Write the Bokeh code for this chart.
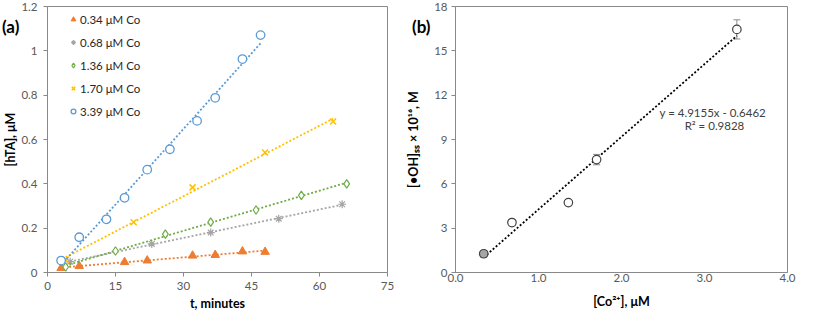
import numpy as np
from bokeh.plotting import figure
from bokeh.layouts import row
from bokeh.models import (ColumnDataSource, FixedTicker, Legend, LegendItem, Label, Div,
                          Whisker, TeeHead, Range1d)
from bokeh.embed import file_html
from bokeh.resources import INLINE

# ---------------- Panel (a) data ----------------
t_034 = [3, 7, 17, 22, 32, 37, 43, 48]
hta_034 = [0.020, 0.029, 0.047, 0.054, 0.076, 0.079, 0.095, 0.093]
t_068 = [5, 23, 36, 51, 65]
hta_068 = [0.049, 0.129, 0.180, 0.243, 0.308]
t_136 = [4, 15, 26, 36, 46, 56, 66]
hta_136 = [0.025, 0.097, 0.173, 0.227, 0.282, 0.348, 0.400]
t_170 = [4, 19, 32, 48, 63]
hta_170 = [0.058, 0.227, 0.384, 0.541, 0.681]
t_339 = [3, 7, 13, 17, 22, 27, 33, 37, 43, 47]
hta_339 = [0.054, 0.159, 0.240, 0.337, 0.464, 0.556, 0.684, 0.788, 0.963, 1.071]

series_labels = ["0.34 μM Co", "0.68 μM Co", "1.36 μM Co", "1.70 μM Co", "3.39 μM Co"]

a_xticks = [0, 15, 30, 45, 60, 75]
a_xlabels = ["0", "15", "30", "45", "60", "75"]
a_yticks = [0, 0.2, 0.4, 0.6, 0.8, 1.0, 1.2]
a_ylabels = ["0", "0.2", "0.4", "0.6", "0.8", "1", "1.2"]

# ---------------- Panel (b) data ----------------
co = [0.34, 0.68, 1.36, 1.70, 3.39]
oh = [1.27, 3.38, 4.73, 7.64, 16.45]
oh_err = [0.22, 0.10, 0.10, 0.35, 0.65]
fit_slope = 4.9155
fit_intercept = -0.6462
fit_r2 = 0.9828

b_xticks = [0, 1, 2, 3, 4]
b_xlabels = ["0.0", "1.0", "2.0", "3.0", "4.0"]
b_yticks = [0, 3, 6, 9, 12, 15, 18]
b_ylabels = ["0", "3", "6", "9", "12", "15", "18"]

FONT = "Lato"
AXIS_COL = "#898989"
TICK_COL = "#595959"

FIG_H = 313
TOP = 6
BOTTOM = 41
frame_h = FIG_H - TOP - BOTTOM


def style(p, xt, xl, yt, yl):
    p.outline_line_color = AXIS_COL
    p.outline_line_width = 1
    p.xgrid.grid_line_color = None
    p.ygrid.grid_line_color = None
    p.xaxis.ticker = FixedTicker(ticks=xt)
    p.yaxis.ticker = FixedTicker(ticks=yt)
    p.xaxis.major_label_overrides = dict(zip(xt, xl))
    p.yaxis.major_label_overrides = dict(zip(yt, yl))
    for ax in p.axis:
        ax.axis_line_color = AXIS_COL
        ax.major_tick_line_color = AXIS_COL
        ax.minor_tick_line_color = None
        ax.major_tick_in = 0
        ax.major_tick_out = 4
        ax.major_label_text_font = FONT
        ax.major_label_text_font_size = "11.5px"
        ax.major_label_text_color = TICK_COL
        ax.axis_label_text_font = FONT
        ax.axis_label_text_font_size = "12.5px"
        ax.axis_label_text_font_style = "bold"
        ax.axis_label_text_color = "#000000"
    p.background_fill_color = "white"
    p.border_fill_color = "white"


def panel_tag(text, left):
    return Div(text=text, styles={"position": "absolute", "left": left, "top": "17px",
                                  "font-family": "Lato", "font-size": "17px",
                                  "font-weight": "bold", "color": "#000000",
                                  "z-index": "10", "line-height": "20px"})


# ---------------- Figure (a) ----------------
pa = figure(width=402, height=FIG_H, output_backend="svg", toolbar_location=None,
            x_range=Range1d(0, 75), y_range=Range1d(0, 1.2),
            min_border_left=40, min_border_right=15, min_border_top=TOP,
            min_border_bottom=BOTTOM)
style(pa, a_xticks, a_xlabels, a_yticks, a_ylabels)
pa.xaxis.axis_label = "t, minutes"
pa.yaxis.axis_label = "[hTA], μM"
pa.yaxis.major_label_standoff = 6
pa.xaxis.major_label_standoff = 5
pa.yaxis.axis_label_standoff = 0
pa.xaxis.axis_label_standoff = 3

colors = ["#ED7D31", "#A5A5A5", "#70AD47", "#FFC000", "#5B9BD5"]
ts = [t_034, t_068, t_136, t_170, t_339]
vs = [hta_034, hta_068, hta_136, hta_170, hta_339]
items = []
for i, (t, v, c, lab) in enumerate(zip(ts, vs, colors, series_labels)):
    t_arr = np.array(t, dtype=float)
    v_arr = np.array(v, dtype=float)
    k, b = np.polyfit(t_arr, v_arr, 1)
    xs = [t_arr.min(), t_arr.max()]
    pa.line(xs, [k * x + b for x in xs], line_color=c, line_width=1.8, line_dash="2 2")
    if i == 0:
        r = pa.scatter(t, v, marker="triangle", size=8.5, fill_color=c, line_color=c)
    elif i == 1:
        r = pa.scatter(t, v, marker="asterisk", size=8, line_color=c, line_width=1.2)
    elif i == 2:
        r = pa.scatter(t, v, marker="diamond", size=8.5, fill_color="white",
                       line_color=c, line_width=1.2)
    elif i == 3:
        r = pa.scatter(t, v, marker="x", size=8.5, line_color=c, line_width=1.5)
    else:
        r = pa.scatter(t, v, marker="circle", size=8.5, fill_color="white", line_color=c,
                       line_width=1.3)
    items.append(LegendItem(label=lab, renderers=[r]))

legend = Legend(items=items, location=(20, frame_h - 5 - 108), orientation="vertical",
                glyph_width=12, glyph_height=16, label_height=16, spacing=7, padding=0,
                margin=0, label_standoff=1, border_line_color=None, background_fill_alpha=0,
                label_text_font=FONT, label_text_font_size="11.5px", label_text_color="#262626")
pa.add_layout(legend)

pa.elements = [panel_tag("(a)", "2px")]

# ---------------- Figure (b) ----------------
pb = figure(width=395, height=FIG_H, output_backend="svg", toolbar_location=None,
            x_range=Range1d(0, 4), y_range=Range1d(0, 18),
            min_border_left=53, min_border_right=10, min_border_top=TOP,
            min_border_bottom=BOTTOM)
style(pb, b_xticks, b_xlabels, b_yticks, b_ylabels)
pb.xaxis.axis_label = "[Co²⁺], μM"
pb.yaxis.axis_label = "[•OH]ₛₛ × 10¹⁶, M"
pb.yaxis.major_label_standoff = 4
pb.xaxis.major_tick_out = 0
pb.xaxis.major_label_standoff = 1
pb.yaxis.axis_label_standoff = 10
pb.xaxis.axis_label_standoff = 9

xfit = [min(co), max(co)]
pb.line(xfit, [fit_slope * x + fit_intercept for x in xfit], line_color="#000000",
        line_width=1.8, line_dash="2 2")

src = ColumnDataSource(dict(x=co, y=oh,
                            lower=[a - e for a, e in zip(oh, oh_err)],
                            upper=[a + e for a, e in zip(oh, oh_err)],
                            fill=["#A6A6A6", "white", "white", "white", "white"]))
pb.add_layout(Whisker(source=src, base="x", lower="lower", upper="upper",
                      line_color="#8C8C8C", line_width=1,
                      upper_head=TeeHead(size=7, line_color="#8C8C8C", line_width=1),
                      lower_head=TeeHead(size=7, line_color="#8C8C8C", line_width=1)))
pb.scatter("x", "y", source=src, marker="circle", size=8.5, fill_color="fill",
           line_color="#404040", line_width=1.2)

pb.add_layout(Label(x=3.1, y=10.8, text=f"y = {fit_slope}x - {abs(fit_intercept)}",
                    text_font=FONT, text_font_size="11.5px", text_color="#404040",
                    text_align="center", text_baseline="middle"))
pb.add_layout(Label(x=3.12, y=9.95, text=f"R² = {fit_r2}",
                    text_font=FONT, text_font_size="11.5px", text_color="#404040",
                    text_align="center", text_baseline="middle"))

pb.elements = [panel_tag("(b)", "10px")]

layout = row(pa, pb)
open("out.html", "w").write(file_html(layout, INLINE))
